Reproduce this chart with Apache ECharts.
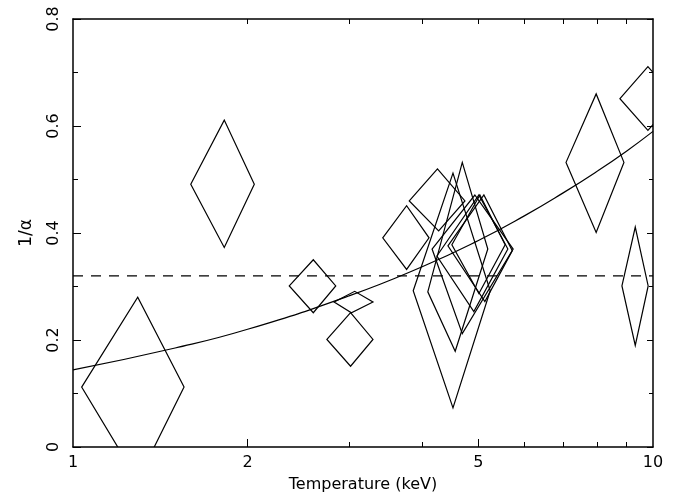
<!DOCTYPE html>
<html>
<head>
<meta charset="utf-8">
<script src="https://cdn.jsdelivr.net/npm/echarts@6/dist/echarts.min.js"></script>
<style>
html,body{margin:0;padding:0;background:#fff;}
#chart{width:686px;height:498px;}
</style>
</head>
<body>
<div id="chart"></div>
<script>
// ---- data ----
// Each diamond: left, top, right, bottom vertex as [Temperature keV, 1/alpha]
const diamondLeft = [
  [1.035,0.112],[1.596,0.491],[2.36,0.301],[2.82,0.271],[2.74,0.201],[3.42,0.391],[3.80,0.460],
  [3.86,0.292],[4.09,0.290],[4.16,0.370],[4.24,0.357],[4.43,0.376],[4.50,0.378],
  [7.08,0.532],[8.77,0.651],[8.84,0.301]
];
const diamondTop = [
  [1.293,0.280],[1.823,0.611],[2.596,0.350],[3.06,0.291],[3.01,0.251],[3.76,0.451],[4.25,0.520],
  [4.52,0.512],[4.69,0.532],[4.93,0.471],[5.01,0.471],[5.11,0.471],[5.03,0.471],
  [7.98,0.660],[9.80,0.711],[9.32,0.411]
];
const diamondRight = [
  [1.554,0.112],[2.054,0.491],[2.838,0.301],[3.29,0.271],[3.29,0.201],[4.11,0.391],[4.74,0.460],
  [5.24,0.292],[5.19,0.370],[5.74,0.370],[5.62,0.370],[5.72,0.367],[5.56,0.378],
  [8.91,0.532],[10.96,0.651],[9.81,0.301]
];
const diamondBottom = [
  [1.293,-0.062],[1.823,0.373],[2.596,0.251],[3.02,0.251],[3.01,0.151],[3.76,0.332],[4.27,0.404],
  [4.52,0.073],[4.56,0.179],[4.69,0.212],[4.91,0.253],[5.13,0.272],[5.01,0.287],
  [7.98,0.401],[9.80,0.592],[9.32,0.190]
];
// fitted curve
const curveT = [1, 1.5, 2, 3, 4, 5, 6, 7, 8, 9, 10];
const curveV = [0.144, 0.185, 0.220, 0.283, 0.337, 0.386, 0.432, 0.475, 0.515, 0.553, 0.590];
// dashed mean level
const meanLevel = 0.32;
// axis ticks
const xLabelValues = [1, 2, 5, 10];
const xMajorTicks = [2, 5];
const xMinorTicks = [3, 4, 6, 7, 8, 9];
const xAllTicks = [2, 3, 4, 5, 6, 7, 8, 9];

// ---- chart ----
const diamondData = diamondLeft.map((l, i) => [
  l[0], l[1], diamondTop[i][0], diamondTop[i][1],
  diamondRight[i][0], diamondRight[i][1], diamondBottom[i][0], diamondBottom[i][1]
]);
const curveData = curveT.map((t, i) => [t, curveV[i]]);
const FONT = 'DejaVu Sans';
const black = '#000';

const chart = echarts.init(document.getElementById('chart'), null, {renderer: 'canvas'});
const baseX = {
  type: 'log', logBase: 10, min: 1, max: 10, gridIndex: 0,
  splitLine: {show: false},
  axisLine: {show: true, onZero: false, lineStyle: {color: black, width: 1.5}}
};
chart.setOption({
  backgroundColor: '#fff',
  animation: false,
  textStyle: {fontFamily: FONT, color: black},
  grid: {left: 73, right: 33, top: 19, bottom: 49, containLabel: false},
  xAxis: [
    Object.assign({}, baseX, {
      position: 'bottom',
      name: 'Temperature (keV)', nameLocation: 'middle', nameGap: 30,
      nameTextStyle: {fontFamily: FONT, fontSize: 16, color: black},
      axisTick: {show: true, inside: true, length: 8, customValues: xMajorTicks, lineStyle: {color: black, width: 1}},
      axisLabel: {show: true, customValues: xLabelValues, margin: 8, fontFamily: FONT, fontSize: 16, color: black,
        formatter: v => String(Math.round(v))}
    }),
    Object.assign({}, baseX, {
      position: 'bottom',
      axisLine: {show: false},
      axisTick: {show: true, inside: true, length: 5, customValues: xMinorTicks, lineStyle: {color: black, width: 1}},
      axisLabel: {show: false}
    }),
    Object.assign({}, baseX, {
      position: 'top',
      axisTick: {show: true, inside: true, length: 5, customValues: xAllTicks, lineStyle: {color: black, width: 1}},
      axisLabel: {show: false}
    })
  ],
  yAxis: [
    {
      type: 'value', min: 0, max: 0.8, interval: 0.2, position: 'left',
      name: '1/α', nameLocation: 'middle', nameGap: 38, nameRotate: 90,
      nameTextStyle: {fontFamily: FONT, fontSize: 17, color: black},
      splitLine: {show: false},
      axisLine: {show: true, onZero: false, lineStyle: {color: black, width: 1.5}},
      axisTick: {show: true, inside: true, length: 8, lineStyle: {color: black, width: 1}},
      minorTick: {show: true, splitNumber: 2, length: 5, lineStyle: {color: black, width: 1}},
      axisLabel: {show: true, rotate: 90, margin: 11, fontFamily: FONT, fontSize: 16, color: black,
        formatter: v => (v === 0 ? '0' : String(Math.round(v * 10) / 10))}
    },
    {
      type: 'value', min: 0, max: 0.8, interval: 0.2, position: 'right',
      splitLine: {show: false},
      axisLine: {show: true, onZero: false, lineStyle: {color: black, width: 1.5}},
      axisTick: {show: true, inside: true, length: 6, lineStyle: {color: black, width: 1}},
      minorTick: {show: true, splitNumber: 2, length: 4, lineStyle: {color: black, width: 1}},
      axisLabel: {show: false}
    }
  ],
  series: [
    {
      type: 'custom', xAxisIndex: 0, yAxisIndex: 0, clip: true,
      data: diamondData,
      encode: {x: [0, 2, 4, 6], y: [1, 3, 5, 7]},
      renderItem: function (params, api) {
        const pts = [];
        for (let k = 0; k < 4; k++) pts.push(api.coord([api.value(2 * k), api.value(2 * k + 1)]));
        return {type: 'polygon', shape: {points: pts},
          style: {fill: null, stroke: black, lineWidth: 1.2}};
      },
      silent: true
    },
    {
      type: 'line', xAxisIndex: 0, yAxisIndex: 0, data: curveData, smooth: true,
      showSymbol: false, symbol: 'none', clip: true,
      lineStyle: {color: black, width: 1.2}
    },
    {
      type: 'line', xAxisIndex: 0, yAxisIndex: 0,
      data: [[1, meanLevel], [10, meanLevel]],
      showSymbol: false, symbol: 'none',
      lineStyle: {color: black, width: 1.3, type: [10, 8]}
    }
  ]
});
</script>
</body>
</html>
